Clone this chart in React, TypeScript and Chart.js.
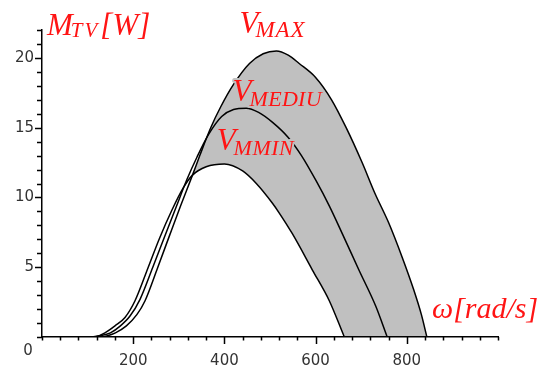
import { useEffect, useRef } from 'react';
import { Chart, registerables } from 'chart.js';

Chart.register(...registerables);

// ---- data ----
const vminX = [95, 120, 138, 160, 182, 204, 233, 258, 285, 310, 330, 360, 400, 440, 470, 505, 520, 549, 593, 630, 663];
const vminY = [0, 0.05, 0.3, 0.8, 1.4, 2.6, 5.0, 7.1, 9.1, 10.7, 11.6, 12.2, 12.4, 11.9, 11.0, 9.6, 8.9, 7.4, 4.8, 2.6, 0];

const vmedX = [115, 150, 172, 193, 215, 243, 269, 294, 318, 340, 365, 394, 420, 448, 475, 505, 540, 569, 601, 630, 660, 695, 732, 757];
const vmedY = [0, 0.3, 0.8, 1.5, 2.7, 5.0, 7.2, 9.3, 11.3, 12.9, 14.5, 15.8, 16.3, 16.4, 16.1, 15.4, 14.3, 13.0, 11.2, 9.4, 7.3, 4.8, 2.2, 0];

const vmaxX = [135, 161, 185, 208, 226, 254, 280, 304, 330, 346, 370, 392, 420, 455, 485, 514, 540, 564, 600, 635, 667, 702, 730, 760, 790, 815, 832, 844];
const vmaxY = [0, 0.3, 0.8, 1.6, 2.6, 5.0, 7.3, 9.4, 11.6, 13.0, 15.0, 16.5, 18.1, 19.6, 20.3, 20.5, 20.2, 19.6, 18.6, 17.0, 15.0, 12.5, 10.3, 8.2, 5.7, 3.4, 1.6, 0];

const xLabelValues = [200, 400, 600, 800];
const yLabelValues = [5, 10, 15, 20];

const RED = '#ff1414';
const FILL = '#c0c0c0';
const SERIF = '"Liberation Serif", "Times New Roman", serif';

function pts(xs: number[], ys: number[]) {
  return xs.map((x, i) => ({ x, y: ys[i] }));
}

function drawSubLabel(
  ctx: CanvasRenderingContext2D,
  x: number,
  y: number,
  main: string,
  sub: string,
  tail: string,
  mainSize: number,
  subSize: number,
  subDy: number,
  subDx: number,
  spacing: number,
  halo: boolean
) {
  ctx.save();
  ctx.textBaseline = 'alphabetic';
  ctx.textAlign = 'left';
  ctx.lineJoin = 'round';
  const fMain = `italic ${mainSize}px ${SERIF}`;
  const fSub = `italic ${subSize}px ${SERIF}`;
  const parts: Array<[string, string, number, number, number]> = [];
  ctx.font = fMain;
  let cx = x;
  parts.push([main, fMain, cx, y, 0]);
  cx += ctx.measureText(main).width + subDx;
  ctx.font = fSub;
  (ctx as any).letterSpacing = `${spacing}px`;
  parts.push([sub, fSub, cx, y + subDy, spacing]);
  cx += ctx.measureText(sub).width;
  (ctx as any).letterSpacing = '0px';
  if (tail) parts.push([tail, fMain, cx + 1, y, 0]);
  if (halo) {
    ctx.strokeStyle = FILL;
    ctx.lineWidth = 4;
    for (const [t, f, px, py, sp] of parts) {
      ctx.font = f;
      (ctx as any).letterSpacing = `${sp}px`;
      ctx.strokeText(t, px, py);
    }
  }
  ctx.fillStyle = RED;
  for (const [t, f, px, py, sp] of parts) {
    ctx.font = f;
    (ctx as any).letterSpacing = `${sp}px`;
    ctx.fillText(t, px, py);
  }
  (ctx as any).letterSpacing = '0px';
  ctx.restore();
}

const tickPlugin = {
  id: 'axisTicks',
  afterDraw(chart: any) {
    const { ctx, chartArea } = chart;
    const xs = chart.scales.x;
    const ys = chart.scales.y;
    ctx.save();
    ctx.strokeStyle = '#000';
    ctx.lineWidth = 1.5;
    ctx.beginPath();
    for (const t of xs.ticks) {
      const px = Math.round(xs.getPixelForValue(t.value)) + 0.5;
      const len = xLabelValues.includes(t.value) ? 7 : 3.5;
      ctx.moveTo(px, chartArea.bottom);
      ctx.lineTo(px, chartArea.bottom + len);
    }
    for (const t of ys.ticks) {
      const py = Math.round(ys.getPixelForValue(t.value)) + 0.5;
      const len = yLabelValues.includes(t.value) ? 7 : 5;
      ctx.moveTo(chartArea.left, py);
      ctx.lineTo(chartArea.left - len, py);
    }
    ctx.stroke();
    ctx.restore();
  },
};

const labelPlugin = {
  id: 'curveLabels',
  afterDraw(chart: any) {
    const { ctx, chartArea, scales } = chart;
    const xs = scales.x;
    const ys = scales.y;
    // Axis titles
    drawSubLabel(ctx, chartArea.left + 5, chartArea.top + 5, 'M', 'TV', '[W]', 31, 21, 2, -2, 2, false);
    ctx.save();
    ctx.font = `italic 30px ${SERIF}`;
    ctx.fillStyle = RED;
    ctx.textBaseline = 'alphabetic';
    ctx.fillText('\u03c9[rad/s]', chartArea.right - 66, chartArea.bottom - 19);
    // origin label
    ctx.font = '15px "DejaVu Sans", sans-serif';
    ctx.fillStyle = '#333';
    ctx.textAlign = 'center';
    ctx.textBaseline = 'middle';
    ctx.fillText('0', chartArea.left - 14, chartArea.bottom + 14);
    ctx.restore();
    // Curve labels
    drawSubLabel(ctx, xs.getPixelForValue(433), ys.getPixelForValue(21.8), 'V', 'MAX', '', 31, 23, 4, -3, 1, false);
    drawSubLabel(ctx, xs.getPixelForValue(418), ys.getPixelForValue(16.9), 'V', 'MEDIU', '', 31, 22, 5, -2, 0.3, true);
    drawSubLabel(ctx, xs.getPixelForValue(383), ys.getPixelForValue(13.4), 'V', 'MMIN', '', 31, 22, 5, -2, 0.5, true);
  },
};

export default function App() {
  const ref = useRef<HTMLCanvasElement | null>(null);
  useEffect(() => {
    document.body.style.margin = '0';
    const canvas = ref.current;
    if (!canvas) return;
    const lineCommon = {
      borderColor: '#000',
      borderWidth: 1.5,
      pointRadius: 0,
      tension: 0.4,
      cubicInterpolationMode: 'monotone' as const,
    };
    const chart = new Chart(canvas, {
      type: 'line',
      data: {
        datasets: [
          { label: 'VMMIN', data: pts(vminX, vminY), ...lineCommon, fill: 'origin', backgroundColor: '#ffffff' },
          { label: 'VMEDIU', data: pts(vmedX, vmedY), ...lineCommon, fill: false },
          { label: 'VMAX', data: pts(vmaxX, vmaxY), ...lineCommon, fill: 'origin', backgroundColor: FILL },
        ],
      },
      options: {
        responsive: false,
        animation: false,
        events: [],
        layout: { padding: { top: 30, right: 43, left: 0, bottom: 0 } },
        plugins: {
          legend: { display: false },
          tooltip: { enabled: false },
          filler: { drawTime: 'beforeDatasetsDraw' },
        } as any,
        scales: {
          x: {
            type: 'linear',
            min: 0,
            max: 1000,
            border: { display: true, color: '#000', width: 1.5, z: 1 },
            grid: { display: false, drawOnChartArea: false, drawTicks: true, tickLength: 5 },
            ticks: {
              stepSize: 40,
              autoSkip: false,
              maxRotation: 0,
              color: '#333',
              padding: 10,
              font: { family: '"DejaVu Sans", sans-serif', size: 15 },
              callback: (v: any) => (xLabelValues.includes(Number(v)) ? String(v) : ''),
            },
            afterFit: (s: any) => {
              s.height = 38;
            },
          } as any,
          y: {
            type: 'linear',
            min: 0,
            max: 22,
            border: { display: true, color: '#000', width: 1.5, z: 1 },
            grid: { display: false, drawOnChartArea: false, drawTicks: true, tickLength: 5 },
            ticks: {
              stepSize: 1,
              autoSkip: false,
              color: '#333',
              padding: 3,
              font: { family: '"DejaVu Sans", sans-serif', size: 15 },
              callback: (v: any) => (yLabelValues.includes(Number(v)) ? String(v) : ''),
            },
            afterFit: (s: any) => {
              s.width = 42;
            },
          } as any,
        },
      },
      plugins: [tickPlugin, labelPlugin],
    });
    return () => chart.destroy();
  }, []);
  return <canvas ref={ref} width={541} height={375} style={{ display: 'block' }} />;
}
